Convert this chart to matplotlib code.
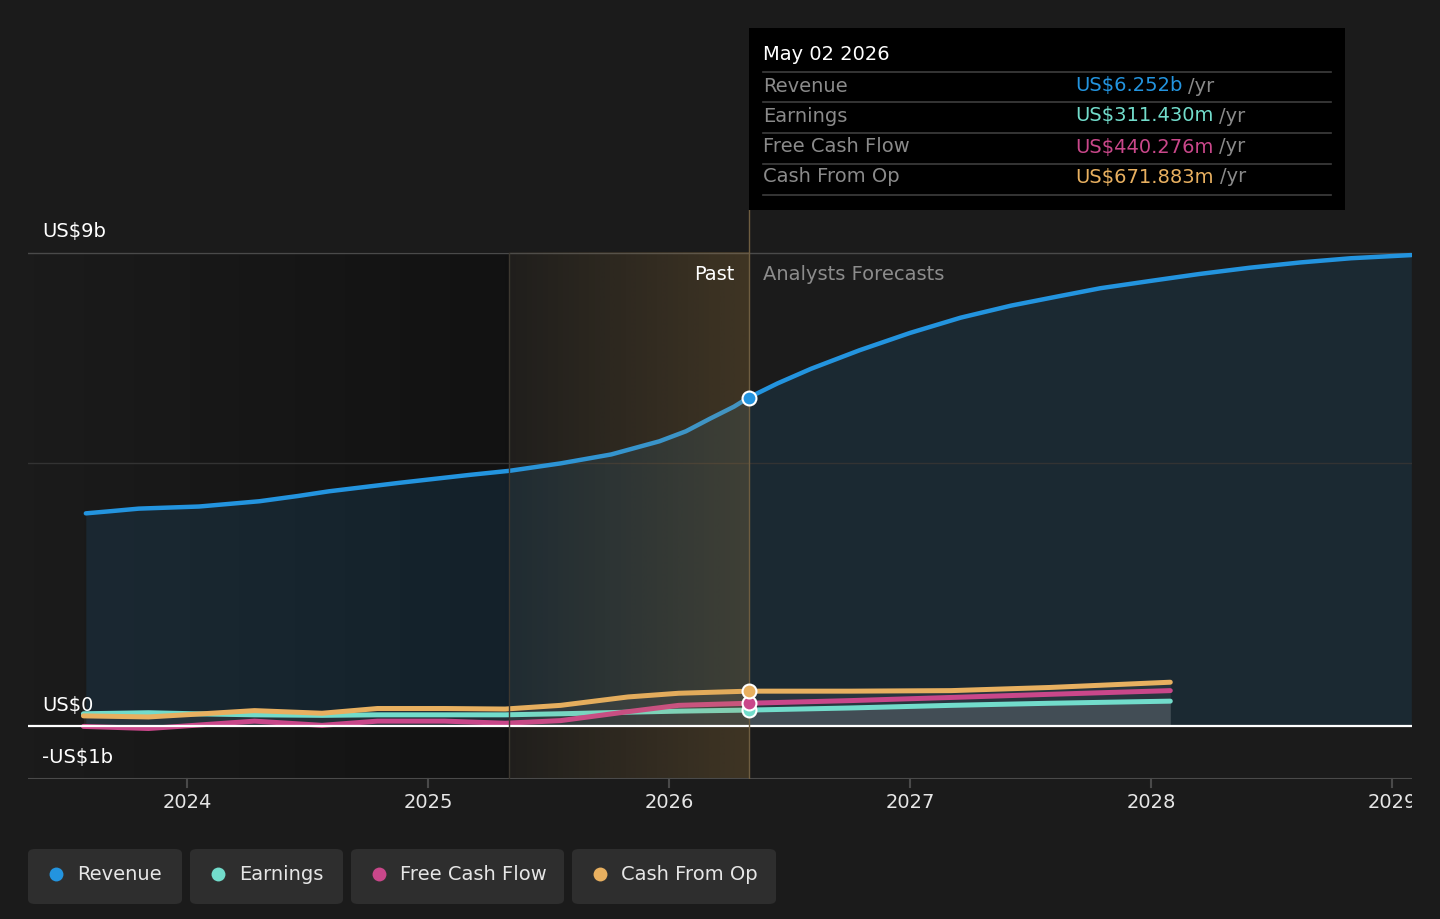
import numpy as np
import matplotlib
matplotlib.use("Agg")
import matplotlib.pyplot as plt
from matplotlib.patches import Rectangle, FancyBboxPatch
from matplotlib.lines import Line2D

# ---- data (US$ b) ----
rev_past_x = [2023.58, 2023.68, 2023.80, 2024.05, 2024.30, 2024.46, 2024.59, 2024.88, 2025.17,
              2025.34, 2025.55, 2025.76, 2025.96, 2026.07, 2026.17, 2026.27, 2026.33]
rev_past = [4.05, 4.09, 4.14, 4.18, 4.28, 4.38, 4.47, 4.63, 4.78,
            4.86, 5.00, 5.17, 5.42, 5.61, 5.85, 6.08, 6.25]
rev_fc_x = [2026.33, 2026.45, 2026.59, 2026.79, 2027.00, 2027.21, 2027.42, 2027.62,
            2027.79, 2028.00, 2028.20, 2028.41, 2028.62, 2028.83, 2029.08]
rev_fc = [6.25, 6.52, 6.80, 7.15, 7.48, 7.77, 8.00, 8.18,
          8.33, 8.47, 8.60, 8.72, 8.82, 8.90, 8.96]

small_past_x = [2023.57, 2023.84, 2024.03, 2024.28, 2024.56, 2024.79, 2025.07, 2025.32,
                2025.55, 2025.83, 2026.04, 2026.33]
earn_past = [0.24, 0.26, 0.24, 0.22, 0.21, 0.22, 0.22, 0.22, 0.24, 0.27, 0.29, 0.31]
fcf_past = [0.00, -0.04, 0.02, 0.10, 0.02, 0.10, 0.10, 0.06, 0.11, 0.28, 0.40, 0.44]
cfo_past = [0.20, 0.18, 0.23, 0.30, 0.25, 0.34, 0.34, 0.33, 0.40, 0.56, 0.63, 0.67]

small_fc_x = [2026.33, 2026.75, 2027.17, 2027.58, 2028.08]
earn_fc = [0.31, 0.35, 0.40, 0.44, 0.48]
fcf_fc = [0.44, 0.49, 0.55, 0.61, 0.68]
cfo_fc = [0.67, 0.67, 0.68, 0.74, 0.84]

now_x = 2026.33
past_start = 2025.336
years = [2024, 2025, 2026, 2027, 2028, 2029]

names = ["Revenue", "Earnings", "Free Cash Flow", "Cash From Op"]
tip_values = ["US$6.252b", "US$311.430m", "US$440.276m", "US$671.883m"]
colors = ["#2394df", "#72dccb", "#c9478a", "#e8b060"]

BG = "#1b1b1b"
W, H = 1440, 919
FS = 14

fig = plt.figure(figsize=(W / 100, H / 100), dpi=100, facecolor=BG)


def fx(x):
    return x / W


def fy(y):
    return 1 - y / H


# axes: pixel x 28..1412, y 210..779
ax = fig.add_axes([fx(28), fy(779), (1412 - 28) / W, (779 - 210) / H])
ax.set_facecolor(BG)
x0, x1 = 2023.340, 2029.083
y0, y1 = -1.0, 9.817

# darker left region gradient
img = np.zeros((1, 256, 4))
img[..., 3] = np.linspace(0, 0.34, 256)
ax.imshow(img, extent=[x0, past_start, -1, 9], aspect="auto", zorder=0.5, interpolation="bilinear")

# revenue area
ax.fill_between(rev_past_x, 0, rev_past, color=colors[0], alpha=0.12, lw=0, zorder=1)
ax.fill_between(rev_fc_x, 0, rev_fc, color=colors[0], alpha=0.12, lw=0, zorder=1)

# light fill under small series
ax.fill_between(small_past_x, 0, cfo_past, color="white", alpha=0.06, lw=0, zorder=1.2)
ax.fill_between(small_fc_x, 0, cfo_fc, color="white", alpha=0.06, lw=0, zorder=1.2)
ax.fill_between(small_fc_x, 0, earn_fc, color="white", alpha=0.12, lw=0, zorder=1.2)

for xs, ys, c in [(small_past_x, earn_past, colors[1]), (small_past_x, fcf_past, colors[2]),
                  (small_past_x, cfo_past, colors[3]), (small_fc_x, earn_fc, colors[1]),
                  (small_fc_x, fcf_fc, colors[2]), (small_fc_x, cfo_fc, colors[3])]:
    ax.plot(xs, ys, color=c, lw=3.6, solid_capstyle="round", solid_joinstyle="round", zorder=3)

ax.plot(rev_past_x, rev_past, color=colors[0], lw=3.2, solid_capstyle="round",
        solid_joinstyle="round", zorder=3)
ax.plot(rev_fc_x, rev_fc, color=colors[0], lw=3.2, solid_capstyle="round",
        solid_joinstyle="round", zorder=3)

# past highlight gradient
img2 = np.zeros((1, 256, 4))
img2[..., 0] = 200 / 255
img2[..., 1] = 150 / 255
img2[..., 2] = 70 / 255
img2[..., 3] = np.linspace(0.03, 0.21, 256)
ax.imshow(img2, extent=[past_start, now_x, -1, 9], aspect="auto", zorder=3.5, interpolation="bilinear")

# grid lines, zero line
ax.axhline(9, color="#4a4a4a", lw=1, zorder=2)
ax.axhline(5, color="#333333", lw=1, zorder=2)
ax.axhline(0, color="white", lw=1.6, zorder=4)
ax.axhline(-1, color="#4a4a4a", lw=1.5, zorder=4)
ax.plot([past_start, past_start], [-1, 9], color="#3d3830", lw=1, zorder=4)
ax.plot([now_x, now_x], [-1, y1], color="#6e5d40", lw=1, zorder=4)

# markers at current point
for val, c in [(earn_past[-1], colors[1]), (fcf_past[-1], colors[2]),
               (cfo_past[-1], colors[3]), (rev_past[-1], colors[0])]:
    ax.plot([now_x], [val], "o", ms=10, mfc=c, mec="white", mew=1.5, zorder=6)

ax.set_xlim(x0, x1)
ax.set_ylim(y0, y1)
ax.set_xticks([])
ax.set_yticks([])
for s in ax.spines.values():
    s.set_visible(False)

# year labels and ticks
for yr in years:
    ax.plot([yr, yr], [-1, -1.15], color="#4a4a4a", lw=1.5, clip_on=False, zorder=4)
    ax.text(yr, -1.44, str(yr), color="#e6e6e6", fontsize=FS, ha="center", va="center",
            clip_on=False)
# cut the last label at the chart's right edge
fig.patches.append(Rectangle((fx(1412), fy(820)), (W - 1412) / W, 35 / H,
                             transform=fig.transFigure, facecolor=BG, edgecolor="none", zorder=5))

# y labels
for txt, py in [("US$9b", 232), ("US$0", 706), ("-US$1b", 758)]:
    fig.text(fx(42), fy(py), txt, color="white", fontsize=FS, ha="left", va="center", zorder=6)

fig.text(fx(735), fy(274), "Past", color="white", fontsize=FS, ha="right", va="center", zorder=6)
fig.text(fx(763), fy(274), "Analysts Forecasts", color="#8c8c8c", fontsize=FS, ha="left",
         va="center", zorder=6)

# tooltip
fig.patches.append(Rectangle((fx(749), fy(210)), (1345 - 749) / W, (210 - 28) / H,
                             transform=fig.transFigure, facecolor="black", edgecolor="none", zorder=10))
fig.text(fx(763), fy(55), "May 02 2026", color="white", fontsize=FS, ha="left", va="center", zorder=11)
for py in [72, 102, 133, 164, 195]:
    fig.lines.append(Line2D([fx(763), fx(1331)], [fy(py), fy(py)], transform=fig.transFigure,
                            color="#3e3e3e", lw=1.2, zorder=11))
row_y = [86, 116, 147, 177]
val_texts = []
for name, v, c, py in zip(names, tip_values, colors, row_y):
    fig.text(fx(763), fy(py), name, color="#8a8a8a", fontsize=FS, ha="left", va="center", zorder=11)
    val_texts.append(fig.text(fx(1075), fy(py), v, color=c, fontsize=FS, ha="left", va="center",
                              zorder=11))

# legend buttons
btns = [(28, 182), (190, 343), (351, 564), (572, 776)]
for (bx0, bx1), name, c in zip(btns, names, colors):
    fig.patches.append(FancyBboxPatch((fx(bx0), fy(904)), (bx1 - bx0) / W, (904 - 849) / H,
                                      boxstyle="round,pad=0,rounding_size=0.005",
                                      transform=fig.transFigure, facecolor="#2e2e2e",
                                      edgecolor="none", zorder=1))
    fig.lines.append(Line2D([fx(bx0 + 28)], [fy(874)], transform=fig.transFigure, marker="o",
                            ms=10, mfc=c, mec="none", ls="none", zorder=2))
    fig.text(fx(bx0 + 49), fy(874), name, color="#e6e6e6", fontsize=FS, ha="left",
             va="center", zorder=3)

# place "/yr" after value text
fig.canvas.draw()
r = fig.canvas.get_renderer()
for t, py in zip(val_texts, row_y):
    bb = t.get_window_extent(r)
    fig.text(bb.x1 / W + fx(6), fy(py), "/yr", color="#8a8a8a", fontsize=FS, ha="left",
             va="center", zorder=11)

fig.savefig("out.png", dpi=100, facecolor=BG)
